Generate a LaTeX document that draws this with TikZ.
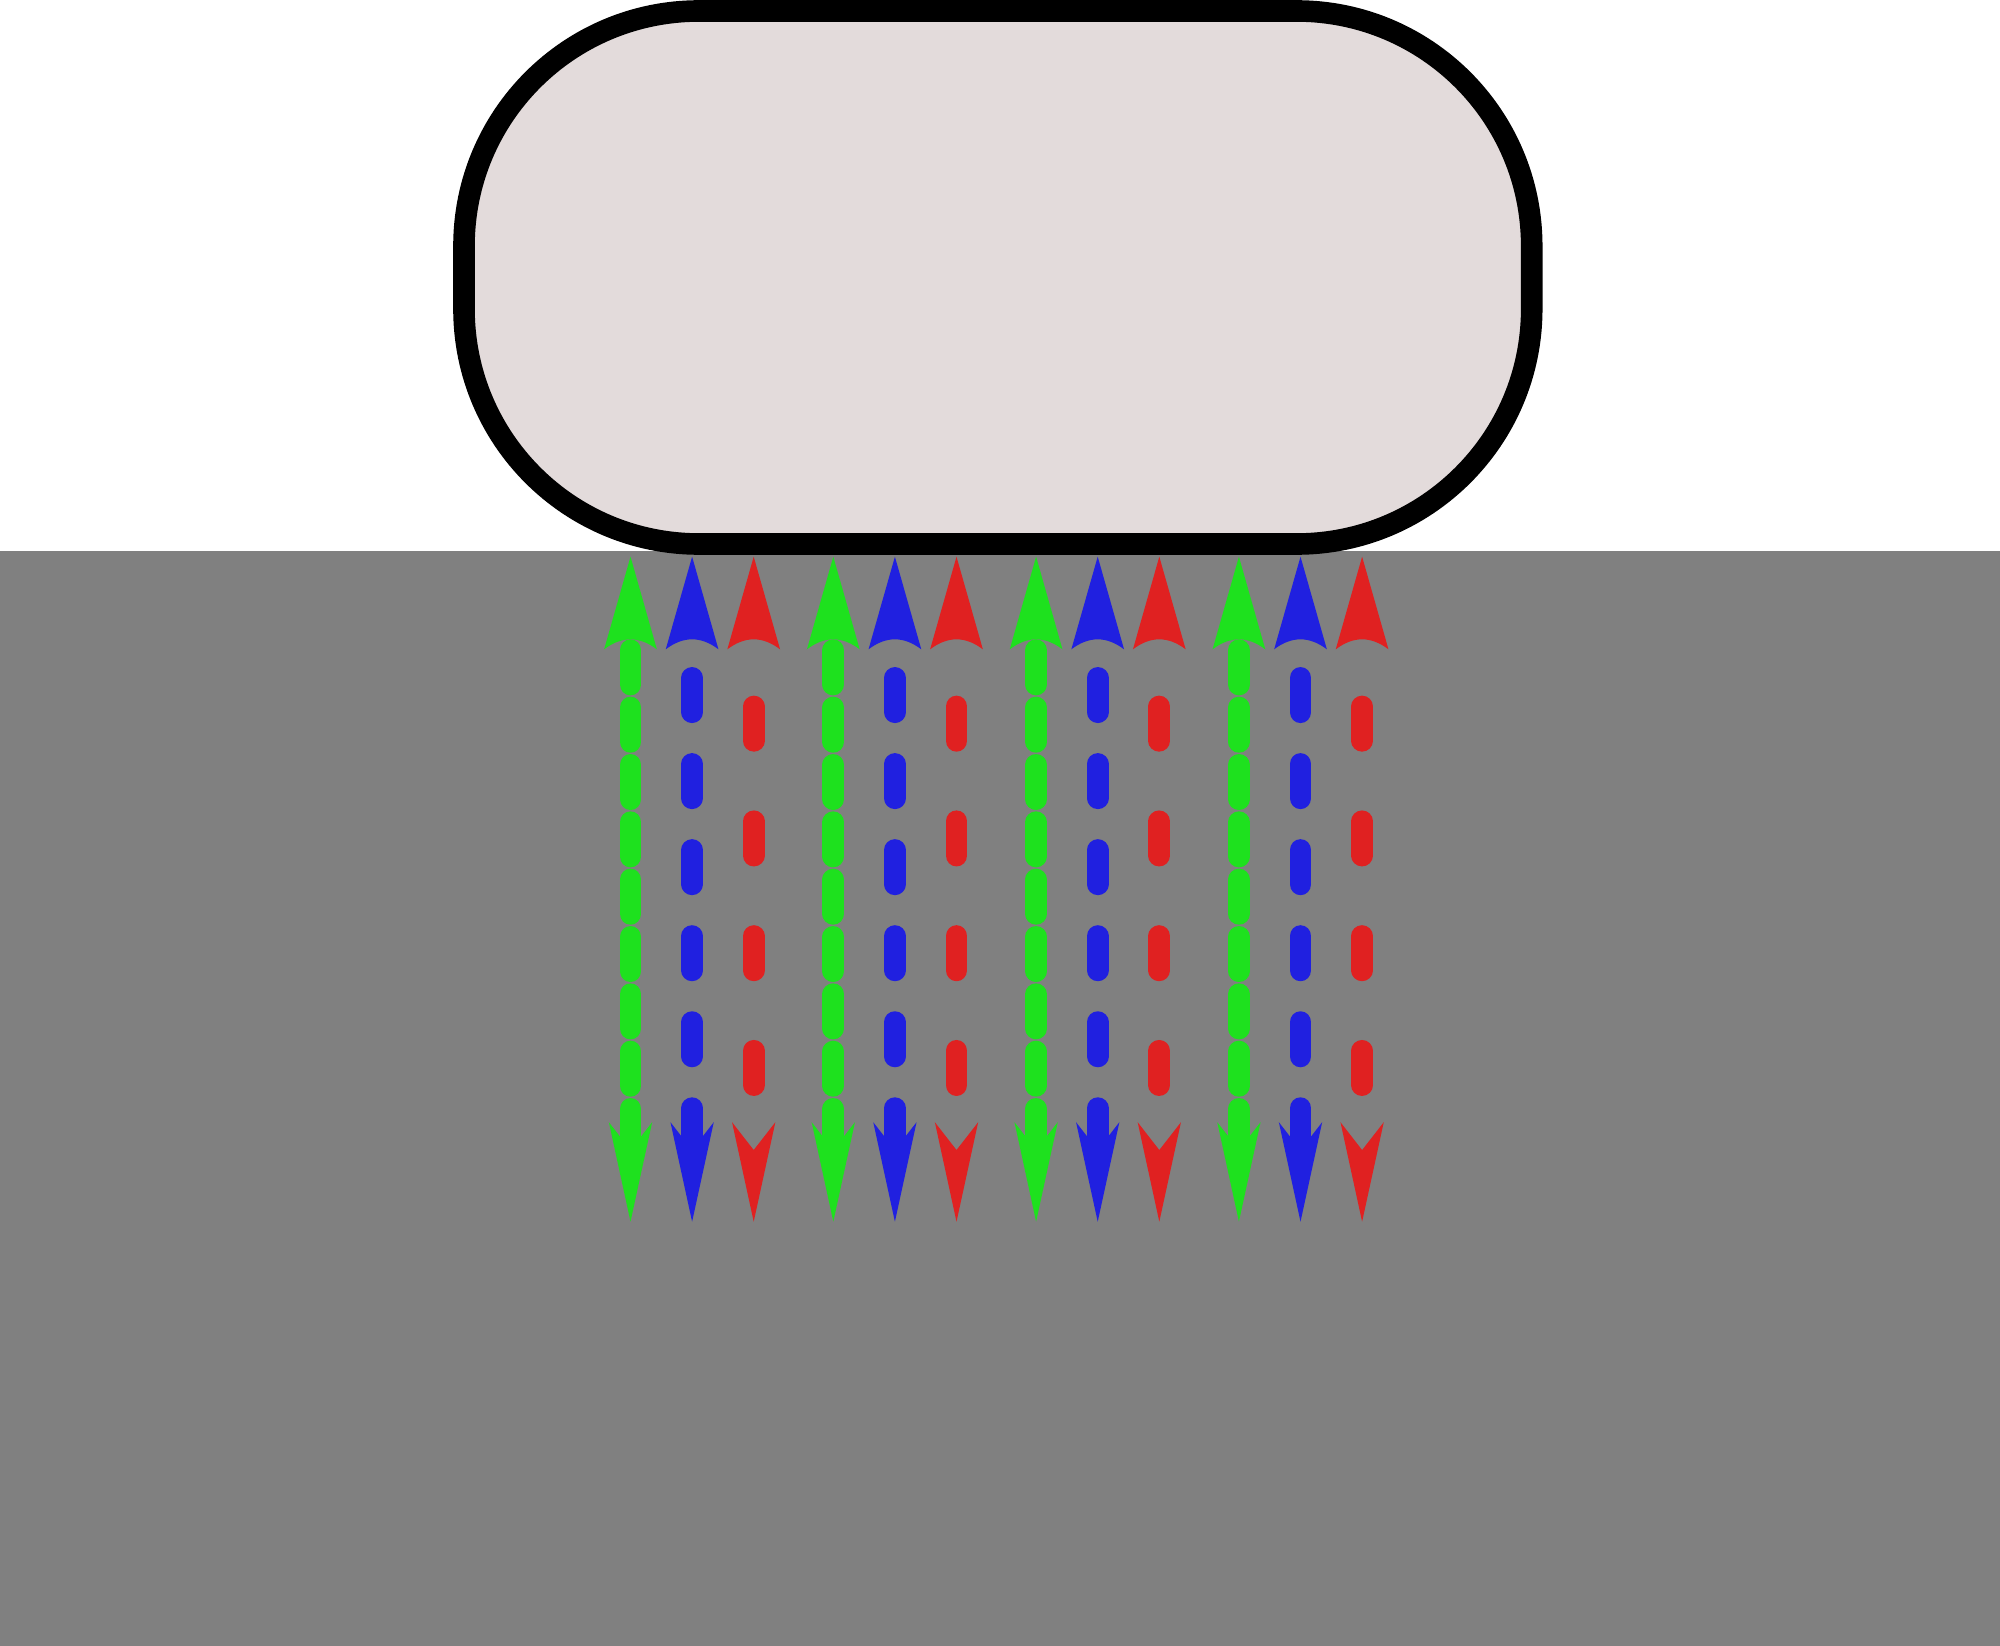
\documentclass[tikz,border=0pt]{standalone}
\usetikzlibrary{calc}
\definecolor{groundgray}{RGB}{128,128,128}
\definecolor{padfill}{RGB}{227,219,219}
\definecolor{beamgreen}{RGB}{30,225,30}
\definecolor{beamblue}{RGB}{32,32,224}
\definecolor{beamred}{RGB}{224,33,33}
\tikzset{
  beam/.style={line width=0.217cm,line cap=round},
  pad/.style={draw=black,line width=0.216cm,line join=round,fill=padfill}
}
\begin{document}
\begin{tikzpicture}[x=0.01cm,y=-0.01cm]
  \useasboundingbox (0,0) rectangle (2000,1646);
  \fill[groundgray] (0,551) rectangle (2000,1646);
  % pad, y runs downwards so angles turn clockwise
  \draw[pad] (699,11) -- (1296.7,11) arc[start angle=-90,end angle=0,radius=235]
    -- (1531.7,309) arc[start angle=0,end angle=90,radius=235]
    -- (699,544) arc[start angle=90,end angle=180,radius=235]
    -- (464,246) arc[start angle=180,end angle=270,radius=235] -- cycle;
  \foreach \g in {0,1,2,3} {
    \foreach \c/\o/\off/\s in {beamgreen/0/0.23cm/650.2,beamblue/61.6/0.517cm/677.9,beamred/123.2/0.804cm/706.5} {
      \pgfmathsetmacro\x{630.5+202.8*\g+\o}
      \coordinate (s\g\c) at (\x,\s);
      \coordinate (e\g\c) at (\x,1150);
      \draw[beam,\c,dash pattern=on 0.343cm off \off] (s\g\c) -- (e\g\c);
      \fill[\c] (\x,556.7) -- (\x+26.35,649.3)
        .. controls (\x+8.78,636) and (\x-8.78,636) .. (\x-26.35,649.3) -- cycle;
      \fill[\c] (\x,1221.7) -- (\x-21.65,1122.2) -- (\x,1150) -- (\x+21.65,1122.2) -- cycle;
    }
  }
\end{tikzpicture}
\end{document}
